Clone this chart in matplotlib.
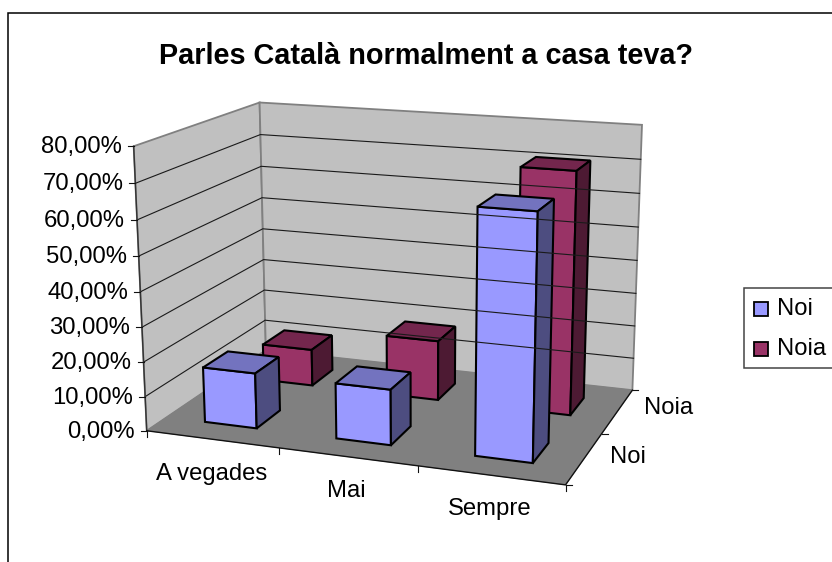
import numpy as np
import matplotlib
matplotlib.use("Agg")
import matplotlib.pyplot as plt
from matplotlib.patches import Polygon, Rectangle

categories = ["A vegades", "Mai", "Sempre"]
series_names = ["Noi", "Noia"]
noi_values = [16.1, 15.9, 68.0]
noia_values = [11.2, 18.0, 71.0]
z_ticks = [0, 10, 20, 30, 40, 50, 60, 70, 80]
z_labels = ["0,00%", "10,00%", "20,00%", "30,00%", "40,00%", "50,00%", "60,00%", "70,00%", "80,00%"]

plt.rcParams["font.family"] = "Liberation Sans"

# camera fitted on the corners of the box (x categories, y series, z percent) -> pixels
box_3d = [(0, 0, 0), (0, 0, 80), (3, 0, 0), (0, 2, 0), (0, 2, 80), (3, 2, 0), (3, 2, 80)]
box_px = [(146, 429.3), (134, 147), (566, 485.7), (266.5, 351.5), (259.3, 101.7), (632, 389.3), (642, 125)]
A, b = [], []
for (x, y, z), (u, v) in zip(box_3d, box_px):
    A.append([x, y, z, 1, 0, 0, 0, 0, -u * x, -u * y, -u * z])
    A.append([0, 0, 0, 0, x, y, z, 1, -v * x, -v * y, -v * z])
    b += [u, v]
P = np.append(np.linalg.lstsq(np.array(A, float), np.array(b, float), rcond=None)[0], 1).reshape(3, 4)


def proj(x, y, z):
    u, v, w = P @ np.array([x, y, z, 1.0])
    return u / w, v / w


fig = plt.figure(figsize=(8.32, 5.62), dpi=100)
ax = fig.add_axes([0, 0, 1, 1])
ax.set_xlim(0, 832)
ax.set_ylim(562, 0)
ax.axis("off")


def face(points, color, edge, lw=0.0):
    ax.add_patch(Polygon([proj(*p) for p in points], closed=True, facecolor=color, edgecolor=edge, linewidth=lw, joinstyle="miter"))


# outer frame
ax.add_patch(Rectangle((8, 13), 900, 700, facecolor="white", edgecolor="black", linewidth=1.1))

# walls and floor
nx, ny, top = len(categories), len(series_names), z_ticks[-1]
face([(0, 0, 0), (0, ny, 0), (0, ny, top), (0, 0, top)], "#c0c0c0", "#808080", 1.3)
face([(0, ny, 0), (nx, ny, 0), (nx, ny, top), (0, ny, top)], "#c0c0c0", "#808080", 1.3)
face([(0, 0, 0), (nx, 0, 0), (nx, ny, 0), (0, ny, 0)], "#808080", "#808080", 0.5)

for z in z_ticks[1:-1]:
    ax.plot(*zip(proj(0, 0, z), proj(0, ny, z), proj(nx, ny, z)), color="#1a1a1a", lw=0.8)

# axis lines and ticks
axis_c = "#111111"
ax.plot(*zip(proj(0, 0, 0), proj(0, 0, top)), color="#333333", lw=1.0)
ax.plot(*zip(proj(0, 0, 0), proj(nx, 0, 0), proj(nx, ny, 0)), color=axis_c, lw=1.0)
for z, label in zip(z_ticks, z_labels):
    u, v = proj(0, 0, z)
    ax.plot([u - 6, u], [v, v], color=axis_c, lw=0.8)
    ax.text(u - 12, v + 1, label, ha="right", va="center", fontsize=17.2)
for i in range(nx + 1):
    u, v = proj(i, 0, 0)
    ax.plot([u, u], [v, v + 6], color=axis_c, lw=0.8)
for j in range(ny + 1):
    u, v = proj(nx, j, 0)
    ax.plot([u, u + 6], [v, v], color=axis_c, lw=0.8)

# bars, back row first
bar_x0, bar_x1 = 0.30, 0.70
bar_y0, bar_y1 = 0.3, 0.7
styles = [("#9999ff", "#7373bf", "#4d4d80"), ("#993366", "#73264d", "#4d1a33")]
for j, values in reversed(list(enumerate([noi_values, noia_values]))):
    front, upper, side = styles[j]
    for i, val in enumerate(values):
        x0, x1, y0, y1 = i + bar_x0, i + bar_x1, j + bar_y0, j + bar_y1
        face([(x0, y0, 0), (x1, y0, 0), (x1, y0, val), (x0, y0, val)], front, "black", 1.5)
        face([(x0, y0, val), (x1, y0, val), (x1, y1, val), (x0, y1, val)], upper, "black", 1.5)
        face([(x1, y0, 0), (x1, y1, 0), (x1, y1, val), (x1, y0, val)], side, "black", 1.5)

# category and series labels
ax.text(212, 474, categories[0], ha="center", va="center", fontsize=17.2)
ax.text(346, 491, categories[1], ha="center", va="center", fontsize=17.2)
ax.text(490, 509, categories[2], ha="center", va="center", fontsize=17.2)
ax.text(628, 457, series_names[0], ha="center", va="center", fontsize=17.2)
ax.text(669, 408, series_names[1], ha="center", va="center", fontsize=17.2)

ax.text(426, 56, "Parles Català normalment a casa teva?", ha="center", va="center", fontsize=20.8, fontweight="bold")

# legend
ax.add_patch(Rectangle((743.5, 288), 120, 80, facecolor="white", edgecolor="#444444", linewidth=1.1))
for (name, style), y in zip(zip(series_names, styles), [302, 342]):
    ax.add_patch(Rectangle((754, y), 14, 14, facecolor=style[0], edgecolor="black", linewidth=1.3))
    ax.text(777, y + 7, name, ha="left", va="center", fontsize=17.2)

fig.savefig("out.png", dpi=100)
